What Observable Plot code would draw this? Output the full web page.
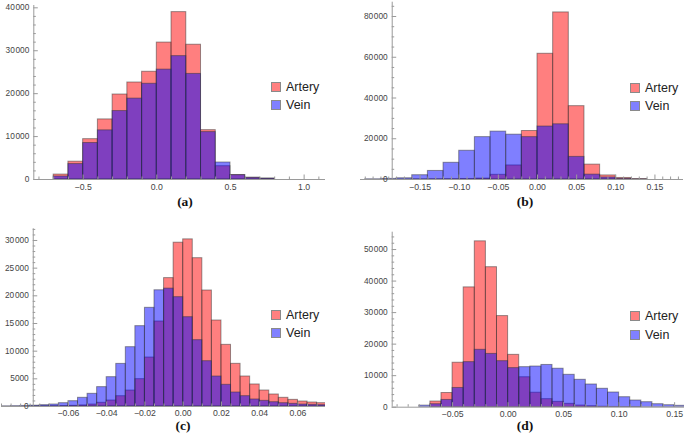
<!DOCTYPE html>
<html><head><meta charset="utf-8">
<script src="https://cdn.jsdelivr.net/npm/d3@7"></script>
<script src="https://cdn.jsdelivr.net/npm/@observablehq/plot@0.6"></script>
<style>
html,body{margin:0;padding:0;background:#fff;}
#root{position:relative;width:685px;height:435px;overflow:hidden;font-family:"Liberation Sans",Arial,sans-serif;}
.panel{position:absolute;}
.panel svg{overflow:visible;}
.cap{position:absolute;font-family:"Liberation Serif","Times New Roman",serif;font-weight:bold;font-size:13.5px;line-height:13px;transform:translate(-50%,-50%);color:#111;white-space:nowrap;}
.leg{position:absolute;font-size:12.5px;color:#222;}
.leg .row{display:flex;align-items:center;height:18.5px;}
.leg .sw{width:10px;height:10px;border:1px solid #8a8a8a;margin-right:5px;box-sizing:border-box;}
</style></head><body><div id="root"></div>
<script>
// ---------- data ----------
const seriesNames = ["Artery", "Vein"];
const seriesFills = ["rgb(255,0,0)", "rgb(0,0,255)"];
const swatchColors = ["rgb(255,128,128)", "rgb(128,128,255)"];
const captions = ["(a)", "(b)", "(c)", "(d)"];

// (a)
const aBinWidth = 0.1;
const aBinStart = [-0.7,-0.6,-0.5,-0.4,-0.3,-0.2,-0.1,0.0,0.1,0.2,0.3,0.4,0.5,0.6,0.7];
const aArtery = [1150,4150,9400,14000,19800,22600,25100,31900,39000,31400,11500,3100,1050,420,220];
const aVein   = [700,3600,8500,11450,15950,18850,22300,25600,28750,24600,11050,3960,1000,380,180];
const aXTicks = [-0.5,0,0.5,1.0];
const aXLabels = ["\u22120.5","0.0","0.5","1.0"];
const aYTicks = [0,10000,20000,30000,40000];
const aYLabels = ["0","10\u200a000","20\u200a000","30\u200a000","40\u200a000"];

// (b)
const bBinWidth = 0.02;
const bBinStart = [-0.22,-0.20,-0.18,-0.16,-0.14,-0.12,-0.10,-0.08,-0.06,-0.04,-0.02,0.00,0.02,0.04,0.06,0.08,0.10,0.12];
const bArtery = [0,0,0,50,100,150,250,450,2300,6900,23800,61700,82000,36000,7300,2000,750,200];
const bVein   = [100,300,600,2100,4200,8200,14100,20800,23500,22000,20800,26000,27100,11100,2400,1000,250,50];
const bXTicks = [-0.15,-0.10,-0.05,0,0.05,0.10,0.15];
const bXLabels = ["\u22120.15","\u22120.10","\u22120.05","0.00","0.05","0.10","0.15"];
const bYTicks = [0,20000,40000,60000,80000];
const bYLabels = ["0","20\u200a000","40\u200a000","60\u200a000","80\u200a000"];

// (c)
const cBinWidth = 0.005;
const cBinStart = [-0.095,-0.090,-0.085,-0.080,-0.075,-0.070,-0.065,-0.060,-0.055,-0.050,-0.045,-0.040,-0.035,-0.030,-0.025,-0.020,-0.015,-0.010,-0.005,0.000,0.005,0.010,0.015,0.020,0.025,0.030,0.035,0.040,0.045,0.050,0.055,0.060,0.065,0.070];
const cArtery = [0,0,0,10,30,50,80,120,200,360,670,1080,1860,2880,4940,8850,15360,23200,29600,30200,26800,20960,15540,11140,7710,5420,3980,2890,2170,1570,1200,900,720,600];
const cVein   = [30,60,100,150,240,360,600,960,1570,2290,3500,5300,7700,10720,14520,17830,21000,21300,19760,16140,11990,8190,5420,3920,2530,1870,1270,1020,780,600,480,360,300,240];
const cXTicks = [-0.06,-0.04,-0.02,0,0.02,0.04,0.06];
const cXLabels = ["\u22120.06","\u22120.04","\u22120.02","0.00","0.02","0.04","0.06"];
const cYTicks = [0,5000,10000,15000,20000,25000,30000];
const cYLabels = ["0","5000","10\u200a000","15\u200a000","20\u200a000","25\u200a000","30\u200a000"];

// (d)
const dBinWidth = 0.01;
const dBinStart = [-0.08,-0.07,-0.06,-0.05,-0.04,-0.03,-0.02,-0.01,0.00,0.01,0.02,0.03,0.04,0.05,0.06,0.07,0.08,0.09,0.10,0.11,0.12,0.13,0.14,0.15];
const dArtery = [0,1800,4500,14100,38000,52600,44400,28900,16600,9500,4600,2550,1700,1060,530,320,150,80,40,20,0,0,0,0];
const dVein   = [500,950,2300,6100,14300,18200,16900,14600,12400,12700,12900,13400,12200,10270,8690,7200,5840,4660,3170,2120,1590,950,630,440];
const dXTicks = [-0.05,0,0.05,0.10,0.15];
const dXLabels = ["\u22120.05","0.00","0.05","0.10","0.15"];
const dYTicks = [0,10000,20000,30000,40000,50000];
const dYLabels = ["0","10\u200a000","20\u200a000","30\u200a000","40\u200a000","50\u200a000"];

// ---------- layout ----------
const axisColor = "#9a9a9a";
const labelColor = "#444";
const panels = [
  {left:0, top:0, width:340, height:197, mL:33.3, mR:15, mT:5, mB:18,
   xDomain:[-0.835,1.145], yDomain:[0,40540], origin:-0.835, labelDy:8,
   xMinor:[-0.8,1.1,0.1], yMinor:[0,40000,2000],
   bins:aBinStart, w:aBinWidth, art:aArtery, vein:aVein, xt:aXTicks, xl:aXLabels, yt:aYTicks, yl:aYLabels,
   leg:{left:271, top:77.5}, cap:{x:185, y:201}},
  {left:340, top:0, width:345, height:197, mL:20, mR:2, mT:1.7, mB:18,
   xDomain:[-0.2261,0.1865], yDomain:[0,87020], origin:-0.1856, labelDy:7.5,
   xMinor:[-0.22,0.18,0.01], yMinor:[0,85000,5000],
   bins:bBinStart, w:bBinWidth, art:bArtery, vein:bVein, xt:bXTicks, xl:bXLabels, yt:bYTicks, yl:bYLabels,
   leg:{left:630, top:78.5}, cap:{x:525, y:201}},
  {left:0, top:215, width:340, height:208, mL:1, mR:15, mT:13.3, mB:17,
   xDomain:[-0.0950,0.0744], yDomain:[0,32110], origin:-0.0784, labelDy:6.5,
   xMinor:[-0.095,0.075,0.005], yMinor:[0,32000,1000],
   bins:cBinStart, w:cBinWidth, art:cArtery, vein:cVein, xt:cXTicks, xl:cXLabels, yt:cYTicks, yl:cYLabels,
   leg:{left:271, top:305.5}, cap:{x:183, y:425}},
  {left:340, top:215, width:345, height:208, mL:51.7, mR:1, mT:16.7, mB:16.3,
   xDomain:[-0.1044,0.1589], yDomain:[0,55500], origin:-0.1044, labelDy:7,
   xMinor:[-0.10,0.16,0.01], yMinor:[0,54000,2000],
   bins:dBinStart, w:dBinWidth, art:dArtery, vein:dVein, xt:dXTicks, xl:dXLabels, yt:dYTicks, yl:dYLabels,
   leg:{left:630, top:307}, cap:{x:525, y:425}}
];

const root = document.getElementById("root");
const near = (a, b) => Math.abs(a - b) < 1e-9;

panels.forEach((p, k) => {
  const table = vals => p.bins.map((x0, i) => ({x1: x0, x2: x0 + p.w, y: vals[i]}));
  const inX = v => v >= p.xDomain[0] - 1e-9 && v <= p.xDomain[1] + 1e-9;
  const xMin = d3.range(p.xMinor[0], p.xMinor[1] + p.xMinor[2] / 2, p.xMinor[2])
    .map(v => +v.toFixed(4)).filter(v => inX(v) && !p.xt.some(t => near(t, v)));
  const yMin = d3.range(p.yMinor[0], p.yMinor[1] + 1, p.yMinor[2])
    .filter(v => v > 0 && v <= p.yDomain[1] && !p.yt.some(t => near(t, v)));
  const xt = p.xt.map((v, i) => ({v, t: p.xl[i]}));
  const yt = p.yt.map((v, i) => ({v, t: p.yl[i]}));

  const chart = Plot.plot({
    width: p.width, height: p.height,
    marginLeft: p.mL, marginRight: p.mR, marginTop: p.mT, marginBottom: p.mB,
    x: {domain: p.xDomain, axis: null},
    y: {domain: p.yDomain, axis: null},
    style: {background: "transparent", fontFamily: "'Liberation Sans', Arial, sans-serif", overflow: "visible"},
    marks: [
      Plot.rectY(table(p.art), {x1: "x1", x2: "x2", y: "y", fill: seriesFills[0], fillOpacity: 0.5, stroke: "#333", strokeOpacity: 0.5, strokeWidth: 1, clip: true}),
      Plot.rectY(table(p.vein), {x1: "x1", x2: "x2", y: "y", fill: seriesFills[1], fillOpacity: 0.5, stroke: "#333", strokeOpacity: 0.5, strokeWidth: 1, clip: true}),
      Plot.ruleY([0], {stroke: axisColor}),
      Plot.ruleX([p.origin], {stroke: axisColor}),
      Plot.ruleX(xt, {x: "v", y1: 0, y2: 0, insetBottom: 4.5, stroke: axisColor}),
      Plot.ruleX(xMin, {x: d => d, y1: 0, y2: 0, insetBottom: 2.5, stroke: axisColor}),
      Plot.ruleY(yt, {y: "v", x1: p.origin, x2: p.origin, insetRight: -4.5, stroke: axisColor}),
      Plot.ruleY(yMin, {y: d => d, x1: p.origin, x2: p.origin, insetRight: -2.5, stroke: axisColor}),
      Plot.text(xt, {x: "v", y: 0, text: "t", dy: p.labelDy, fontSize: 8.7, fill: labelColor}),
      Plot.text(yt, {x: p.origin, y: "v", text: "t", dx: -4.5, textAnchor: "end", fontSize: 8.3, fill: labelColor})
    ]
  });
  const div = document.createElement("div");
  div.className = "panel";
  div.style.left = p.left + "px";
  div.style.top = p.top + "px";
  div.appendChild(chart);
  root.appendChild(div);

  const leg = document.createElement("div");
  leg.className = "leg";
  leg.style.left = p.leg.left + "px";
  leg.style.top = p.leg.top + "px";
  seriesNames.forEach((name, i) => {
    const row = document.createElement("div");
    row.className = "row";
    const sw = document.createElement("span");
    sw.className = "sw";
    sw.style.background = swatchColors[i];
    const tx = document.createElement("span");
    tx.textContent = name;
    row.appendChild(sw); row.appendChild(tx);
    leg.appendChild(row);
  });
  root.appendChild(leg);

  const cap = document.createElement("div");
  cap.className = "cap";
  cap.style.left = p.cap.x + "px";
  cap.style.top = p.cap.y + "px";
  cap.textContent = captions[k];
  root.appendChild(cap);
});
</script></body></html>
